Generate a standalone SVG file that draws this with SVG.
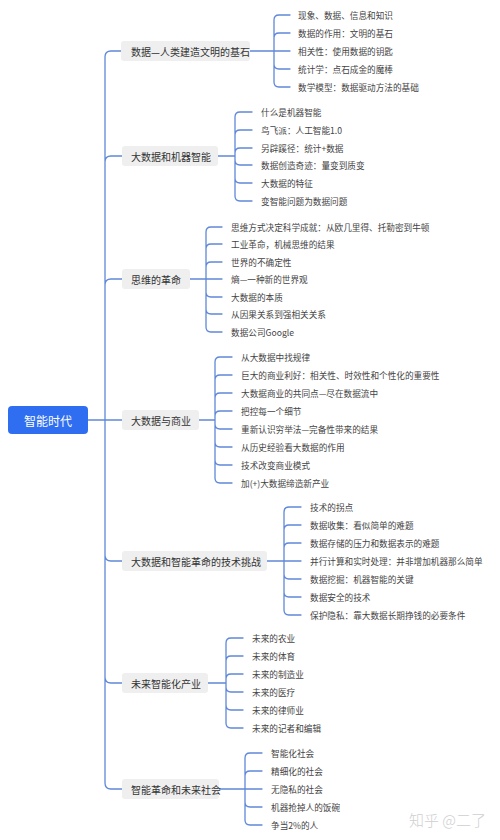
<svg xmlns="http://www.w3.org/2000/svg" width="500" height="840" viewBox="0 0 500 840">
<style>
.c{fill:none;stroke:#5f88d8;stroke-width:1.3;stroke-linecap:round}
.bx{fill:#efefef}
.bt{font-family:"Noto Sans CJK SC","Noto Sans",sans-serif;font-size:10px;fill:#333;dominant-baseline:central}
.ct{font-family:"Noto Sans CJK SC","Noto Sans",sans-serif;font-size:8.65px;fill:#444;dominant-baseline:central}
.rt{font-family:"Noto Sans CJK SC","Noto Sans",sans-serif;font-size:12px;fill:#fff;dominant-baseline:central;text-anchor:middle}
.wm{font-family:"Noto Sans CJK SC","Noto Sans",sans-serif;font-size:15px;font-weight:300;fill:#cfcfcf}
</style>
<rect width="500" height="840" fill="#fff"/>
<g id="connectors">
<path class="c" d="M88,420H105M105,420V57Q105,51 111,51H121M105,420V162Q105,156 111,156H122M105,420V285Q105,279 111,279H122M105,420H122M105,420V555Q105,561 111,561H122M105,420V677Q105,683 111,683H122M105,420V783Q105,789 111,789H122"/>
<path class="c" d="M250,51H274M274,51V20Q274,15 279,15H290M274,51V38Q274,33 279,33H290M274,51H290M274,51V64Q274,69 279,69H290M274,51V82Q274,87 279,87H290"/>
<path class="c" d="M218,156H235M235,156V117Q235,112 240,112H252M235,156V135Q235,130 240,130H252M235,156V153Q235,148 240,148H252M235,156V160Q235,165 240,165H252M235,156V178Q235,183 240,183H252M235,156V196Q235,201 240,201H252"/>
<path class="c" d="M190,279H206M206,279V232Q206,227 211,227H222M206,279V249Q206,244 211,244H222M206,279V267Q206,262 211,262H222M206,279H222M206,279V292Q206,297 211,297H222M206,279V309Q206,314 211,314H222M206,279V327Q206,332 211,332H222"/>
<path class="c" d="M199,420H215M215,420V362Q215,357 220,357H232M215,420V380Q215,375 220,375H232M215,420V398Q215,393 220,393H232M215,420V416Q215,411 220,411H232M215,420V424Q215,429 220,429H232M215,420V442Q215,447 220,447H232M215,420V460Q215,465 220,465H232M215,420V478Q215,483 220,483H232"/>
<path class="c" d="M267,561H284M284,561V512Q284,507 289,507H301M284,561V530Q284,525 289,525H301M284,561V548Q284,543 289,543H301M284,561H301M284,561V574Q284,579 289,579H301M284,561V592Q284,597 289,597H301M284,561V610Q284,615 289,615H301"/>
<path class="c" d="M208,683H226M226,683V643Q226,638 231,638H243M226,683V661Q226,656 231,656H243M226,683V679Q226,674 231,674H243M226,683V687Q226,692 231,692H243M226,683V705Q226,710 231,710H243M226,683V723Q226,728 231,728H243"/>
<path class="c" d="M219,789H245M245,789V758Q245,753 250,753H262M245,789V776Q245,771 250,771H262M245,789H262M245,789V802Q245,807 250,807H262M245,789V820Q245,825 250,825H262"/>
</g>
<g id="root">
<rect x="8" y="406" width="80" height="28" rx="4" fill="#2f6ef0"/>
<text class="rt" x="48" y="420">智能时代</text>
</g>
<g id="b1">
<rect class="bx" x="121" y="41" width="129" height="20" rx="3"/>
<text class="bt" x="131" y="51">数据—人类建造文明的基石</text>
</g>
<g id="b1c">
<text class="ct" x="298" y="15">现象、数据、信息和知识</text>
<text class="ct" x="298" y="33">数据的作用：文明的基石</text>
<text class="ct" x="298" y="51">相关性：使用数据的钥匙</text>
<text class="ct" x="298" y="69">统计学：点石成金的魔棒</text>
<text class="ct" x="298" y="87">数学模型：数据驱动方法的基础</text>
</g>
<g id="b2">
<rect class="bx" x="122" y="146" width="96" height="20" rx="3"/>
<text class="bt" x="131" y="156">大数据和机器智能</text>
</g>
<g id="b2c">
<text class="ct" x="261" y="112">什么是机器智能</text>
<text class="ct" x="261" y="130">鸟飞派：人工智能1.0</text>
<text class="ct" x="261" y="148">另辟蹊径：统计+数据</text>
<text class="ct" x="261" y="165">数据创造奇迹：量变到质变</text>
<text class="ct" x="261" y="183">大数据的特征</text>
<text class="ct" x="261" y="201">变智能问题为数据问题</text>
</g>
<g id="b3">
<rect class="bx" x="122" y="269" width="68" height="20" rx="3"/>
<text class="bt" x="131" y="279">思维的革命</text>
</g>
<g id="b3c">
<text class="ct" x="231" y="227">思维方式决定科学成就：从欧几里得、托勒密到牛顿</text>
<text class="ct" x="231" y="244">工业革命，机械思维的结果</text>
<text class="ct" x="231" y="262">世界的不确定性</text>
<text class="ct" x="231" y="279">熵—一种新的世界观</text>
<text class="ct" x="231" y="297">大数据的本质</text>
<text class="ct" x="231" y="314">从因果关系到强相关关系</text>
<text class="ct" x="231" y="332">数据公司Google</text>
</g>
<g id="b4">
<rect class="bx" x="122" y="410" width="77" height="20" rx="3"/>
<text class="bt" x="131" y="420">大数据与商业</text>
</g>
<g id="b4c">
<text class="ct" x="241" y="357">从大数据中找规律</text>
<text class="ct" x="241" y="375">巨大的商业利好：相关性、时效性和个性化的重要性</text>
<text class="ct" x="241" y="393">大数据商业的共同点—尽在数据流中</text>
<text class="ct" x="241" y="411">把控每一个细节</text>
<text class="ct" x="241" y="429">重新认识穷举法—完备性带来的结果</text>
<text class="ct" x="241" y="447">从历史经验看大数据的作用</text>
<text class="ct" x="241" y="465">技术改变商业模式</text>
<text class="ct" x="241" y="483">加(+)大数据缔造新产业</text>
</g>
<g id="b5">
<rect class="bx" x="122" y="551" width="145" height="20" rx="3"/>
<text class="bt" x="131" y="561">大数据和智能革命的技术挑战</text>
</g>
<g id="b5c">
<text class="ct" x="310" y="507">技术的拐点</text>
<text class="ct" x="310" y="525">数据收集：看似简单的难题</text>
<text class="ct" x="310" y="543">数据存储的压力和数据表示的难题</text>
<text class="ct" x="310" y="561">并行计算和实时处理：并非增加机器那么简单</text>
<text class="ct" x="310" y="579">数据挖掘：机器智能的关键</text>
<text class="ct" x="310" y="597">数据安全的技术</text>
<text class="ct" x="310" y="615">保护隐私：靠大数据长期挣钱的必要条件</text>
</g>
<g id="b6">
<rect class="bx" x="122" y="673" width="86" height="20" rx="3"/>
<text class="bt" x="131" y="683">未来智能化产业</text>
</g>
<g id="b6c">
<text class="ct" x="252" y="638">未来的农业</text>
<text class="ct" x="252" y="656">未来的体育</text>
<text class="ct" x="252" y="674">未来的制造业</text>
<text class="ct" x="252" y="692">未来的医疗</text>
<text class="ct" x="252" y="710">未来的律师业</text>
<text class="ct" x="252" y="728">未来的记者和编辑</text>
</g>
<g id="b7">
<rect class="bx" x="122" y="779" width="97" height="20" rx="3"/>
<text class="bt" x="131" y="789">智能革命和未来社会</text>
</g>
<g id="b7c">
<text class="ct" x="271" y="753">智能化社会</text>
<text class="ct" x="271" y="771">精细化的社会</text>
<text class="ct" x="271" y="789">无隐私的社会</text>
<text class="ct" x="271" y="807">机器抢掉人的饭碗</text>
<text class="ct" x="271" y="825">争当2%的人</text>
</g>
<text class="wm" x="409" y="826">知乎 @二了</text>
</svg>
